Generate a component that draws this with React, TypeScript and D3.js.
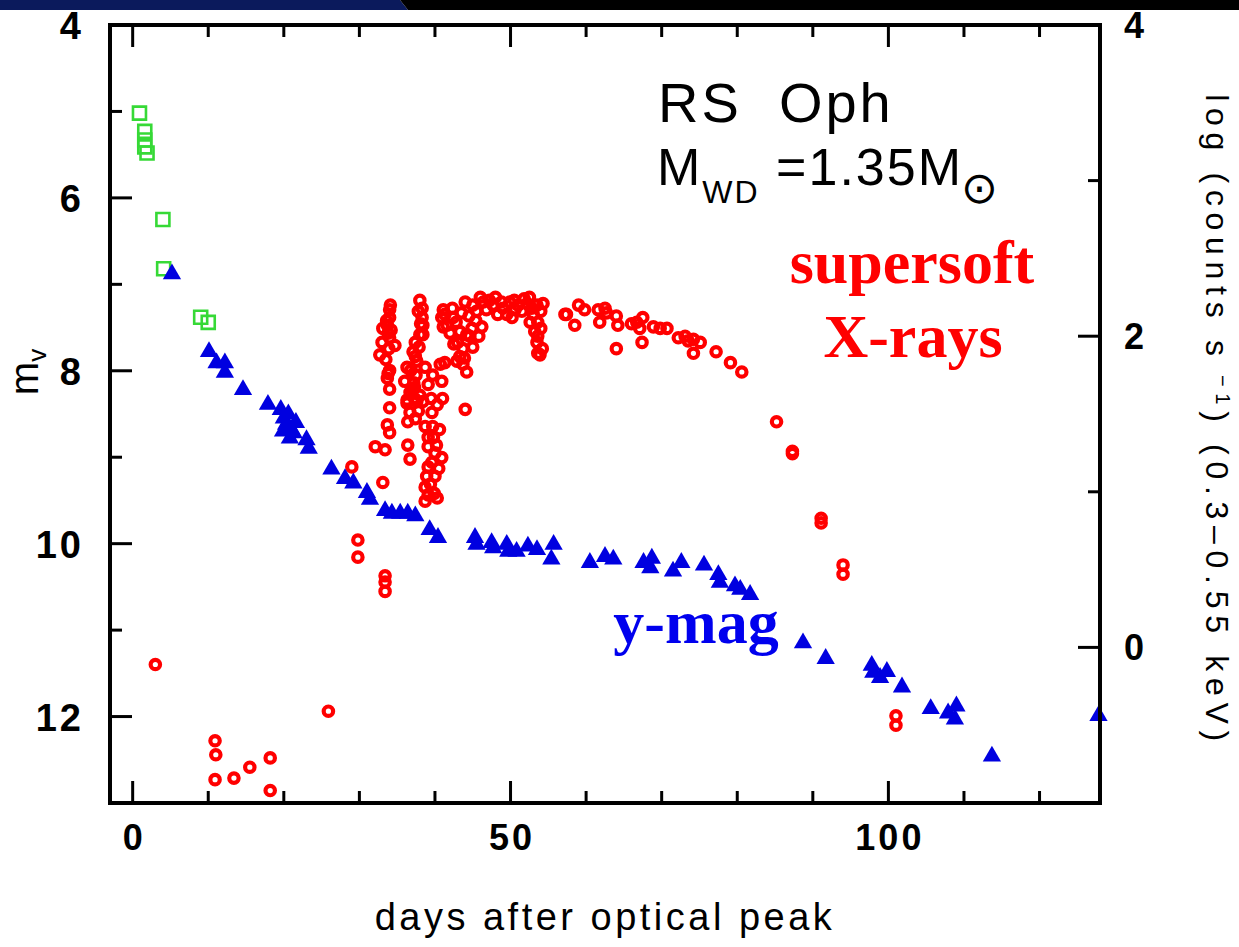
import React from "react";
import * as d3 from "d3";

// ---- data (day after optical peak, value) ----
// early optical (green squares), m_v
const earlyOptical: [number, number][] = [
  [0.9, 5.02], [1.6, 5.23], [1.6, 5.33], [1.6, 5.41], [1.9, 5.48],
  [4.0, 6.25], [4.1, 6.82], [9.0, 7.38], [10.0, 7.44],
];

// y-mag (blue triangles), m_v
const yMag: [number, number][] = [
  [5.2, 6.88], [10.1, 7.78], [11.1, 7.91], [12.2, 7.91], [12.2, 8.02],
  [14.6, 8.22], [17.9, 8.39], [19.6, 8.45], [20.0, 8.55], [20.3, 8.62],
  [20.6, 8.5], [21.0, 8.68], [21.3, 8.72], [19.9, 8.7], [20.8, 8.78],
  [21.6, 8.6], [23.0, 8.8], [23.3, 8.9], [26.3, 9.14], [28.1, 9.25],
  [29.2, 9.3], [31.0, 9.41], [31.4, 9.49], [33.4, 9.62], [34.3, 9.65],
  [35.4, 9.65], [36.4, 9.65], [37.4, 9.68], [39.3, 9.84], [40.4, 9.93],
  [45.3, 9.93], [45.5, 10.01], [47.5, 9.99], [47.7, 10.05], [49.5, 10.01],
  [49.7, 10.09], [50.8, 10.09], [52.3, 10.03], [53.5, 10.07], [55.7, 10.01],
  [55.4, 10.18], [60.5, 10.22], [62.5, 10.15], [63.6, 10.18], [67.6, 10.22],
  [68.7, 10.17], [68.5, 10.28], [71.5, 10.32], [72.6, 10.22], [75.6, 10.25],
  [77.5, 10.36], [77.7, 10.45], [79.7, 10.49], [80.4, 10.53], [81.7, 10.59],
  [88.7, 11.15], [91.7, 11.33], [97.8, 11.41], [98.0, 11.49], [98.9, 11.55],
  [99.8, 11.48], [101.8, 11.66], [105.6, 11.91], [107.9, 11.96], [109.0, 11.88],
  [108.8, 12.03], [113.7, 12.46], [127.8, 11.99],
];

// supersoft X-rays (red circles), log counts/s
const xrays: [number, number][] = [
  [3.0, -0.11], [10.9, -0.6], [11.0, -0.69], [10.9, -0.85], [13.4, -0.84],
  [15.5, -0.77], [18.2, -0.71], [18.2, -0.92], [25.9, -0.41],
  [29.8, 0.69], [29.8, 0.58], [29.0, 1.16],
  [33.4, 0.46], [33.4, 0.42], [33.4, 0.36], [33.1, 1.06],
  [32.1, 1.29], [33.4, 1.27], [33.7, 1.43], [34.0, 1.38], [34.0, 1.54],
  [34.0, 1.66], [33.8, 1.76], [34.0, 1.78], [33.7, 1.73],
  [34.0, 2.17], [34.0, 2.12], [33.1, 2.05], [33.8, 2.02], [33.0, 1.96],
  [34.0, 1.99], [34.7, 1.94], [32.7, 1.88], [33.7, 2.07],
  [33.5, 1.85], [33.9, 1.92], [34.2, 2.04], [33.6, 2.1], [34.1, 2.2],
  [38.0, 2.23], [38.3, 2.18], [38.3, 2.12], [38.4, 2.07], [38.0, 2.01],
  [37.4, 1.96], [37.1, 1.9], [37.4, 1.87], [38.4, 2.01],
  [37.8, 2.16], [38.1, 2.08], [37.9, 1.93], [37.6, 1.84], [37.5, 1.75],
  [37.3, 1.67], [37.8, 1.52], [37.4, 1.47],
  [41.1, 2.17], [40.9, 2.12], [41.1, 2.06],
  [36.3, 1.8], [36.0, 1.71], [36.7, 1.64], [36.3, 1.59], [38.7, 1.8],
  [40.7, 1.82], [39.7, 1.75], [40.9, 1.71], [39.1, 1.69], [38.0, 1.62],
  [38.4, 1.58], [36.8, 1.78], [37.2, 1.7], [37.0, 1.66], [37.3, 1.6],
  [36.3, 1.57], [36.7, 1.51], [36.4, 1.45], [37.6, 1.58], [36.4, 1.3], [36.7, 1.21],
  [40.3, 1.56], [39.6, 1.51], [38.7, 1.42], [39.7, 1.42], [39.1, 1.35],
  [39.1, 1.29], [40.0, 1.25], [40.9, 1.22], [39.6, 1.19], [39.1, 1.16],
  [38.9, 1.1], [40.0, 1.1], [38.7, 1.03], [39.1, 0.98], [40.3, 0.96], [38.7, 0.94],
  [39.5, 1.6], [39.8, 1.35], [40.2, 1.3], [39.4, 1.05], [40.5, 1.15],
  [39.9, 0.99], [40.6, 1.4], [41.0, 1.6],
  [42.3, 2.18], [42.4, 2.12], [41.3, 2.14], [41.6, 2.07], [43.3, 2.03],
  [43.0, 1.96], [44.2, 2.01], [44.9, 2.05], [43.7, 1.92], [45.0, 1.93],
  [46.2, 2.06], [43.3, 1.87], [43.7, 1.82], [44.2, 1.77], [41.3, 1.83], [44.0, 1.53],
  [42.0, 2.02], [42.8, 2.09], [43.5, 2.15], [44.0, 2.22], [44.6, 2.0],
  [45.4, 2.1], [43.9, 1.86], [42.5, 1.95], [42.9, 1.84], [45.8, 2.0],
  [45.0, 2.2], [46.4, 2.22], [47.7, 2.2], [49.0, 2.18], [49.9, 2.22],
  [50.2, 2.12], [48.3, 2.14], [51.0, 2.2], [52.2, 2.21], [53.5, 2.2],
  [54.3, 2.21], [53.0, 2.14], [52.6, 2.09], [53.6, 2.09], [53.6, 2.0],
  [53.5, 1.96], [53.6, 1.89], [53.9, 1.88], [46.8, 2.17], [47.2, 2.23],
  [48.8, 2.22], [50.6, 2.17], [51.5, 2.16], [52.8, 2.18], [44.5, 2.13], [45.5, 2.16],
  [46.0, 2.25], [48.0, 2.25], [49.5, 2.14], [50.5, 2.23], [51.8, 2.24],
  [52.5, 2.25], [54.0, 2.16], [54.0, 2.05], [53.2, 2.03], [54.2, 1.92],
  [57.2, 2.14], [57.4, 2.14], [59.0, 2.2], [59.8, 2.17], [58.5, 2.07],
  [61.6, 2.17], [62.5, 2.18], [62.7, 2.15], [61.8, 2.09], [64.0, 2.13],
  [64.2, 2.07], [64.0, 1.92], [66.0, 2.08], [66.7, 2.09], [67.5, 2.12],
  [67.1, 2.05], [67.4, 1.96], [68.9, 2.06], [69.8, 2.05], [70.7, 2.05],
  [72.2, 1.99], [73.1, 2.0], [73.5, 1.97], [74.2, 1.98], [75.1, 1.96],
  [74.2, 1.89], [77.2, 1.9], [79.1, 1.83], [80.6, 1.77], [85.2, 1.45],
  [87.3, 1.26], [87.3, 1.245], [91.1, 0.83], [91.1, 0.8], [94.0, 0.53],
  [94.0, 0.47], [101.0, -0.44], [101.0, -0.5],
];

// axes
const xDomain = [-3, 128];
const magDomain = [4, 13];
const logDomain = [4, -1];
const xMajorTicks = [0, 50, 100];
const xMinorTicks = [10, 20, 30, 40, 60, 70, 80, 90, 110, 120];
const magMajorTicks = [4, 6, 8, 10, 12];
const magMinorTicks = [5, 7, 9, 11];
const logMajorTicks = [4, 2, 0];
const logMinorTicks = [3, 1];

const W = 1239;
const H = 947;
const L = 110, R = 1100, T = 25, B = 803;

export default function App() {
  const x = d3.scaleLinear().domain(xDomain).range([L, R]);
  const yL = d3.scaleLinear().domain(magDomain).range([T, B]);
  const yR = d3.scaleLinear().domain(logDomain).range([T, B]);
  const tri = d3.symbol(d3.symbolTriangle, 145)()!;
  const sq = d3.symbol(d3.symbolSquare, 169)()!;
  const MAJ = 22, MIN = 12;
  const sans = "'Liberation Sans', Arial, sans-serif";
  const serif = "'Liberation Serif', 'Times New Roman', serif";

  return (
    <div style={{ position: "absolute", left: 0, top: 0, width: W, height: H, background: "#fff" }}>
      <svg width={W} height={H} style={{ display: "block" }}>
        <rect x={0} y={0} width={W} height={H} fill="#fff" />
        {/* markers */}
        <g>
          {earlyOptical.map((d, i) => (
            <path key={"s" + i} d={sq} transform={`translate(${x(d[0])},${yL(d[1])})`}
              fill="none" stroke="#36d936" strokeWidth={2.6} />
          ))}
          {xrays.map((d, i) => (
            <circle key={"c" + i} cx={x(d[0])} cy={yR(d[1])} r={4.7}
              fill="none" stroke="#f00" strokeWidth={4.2} />
          ))}
          {yMag.map((d, i) => (
            <path key={"t" + i} d={tri} transform={`translate(${x(d[0])},${yL(d[1])})`} fill="#0000e0" />
          ))}
        </g>
        {/* frame */}
        <rect x={L} y={T} width={R - L} height={B - T} fill="none" stroke="#000" strokeWidth={4} />
        {/* ticks */}
        <g stroke="#000" strokeWidth={3}>
          {xMajorTicks.map((v) => (
            <g key={"xm" + v}>
              <line x1={x(v)} x2={x(v)} y1={B} y2={B - MAJ} />
              <line x1={x(v)} x2={x(v)} y1={T} y2={T + MAJ} />
            </g>
          ))}
          {xMinorTicks.map((v) => (
            <g key={"xn" + v}>
              <line x1={x(v)} x2={x(v)} y1={B} y2={B - MIN} />
              <line x1={x(v)} x2={x(v)} y1={T} y2={T + MIN} />
            </g>
          ))}
          {magMajorTicks.map((v) => (
            <line key={"lm" + v} x1={L} x2={L + MAJ} y1={yL(v)} y2={yL(v)} />
          ))}
          {magMinorTicks.map((v) => (
            <line key={"ln" + v} x1={L} x2={L + MIN} y1={yL(v)} y2={yL(v)} />
          ))}
          {logMajorTicks.map((v) => (
            <line key={"rm" + v} x1={R} x2={R - MAJ} y1={yR(v)} y2={yR(v)} />
          ))}
          {logMinorTicks.map((v) => (
            <line key={"rn" + v} x1={R} x2={R - MIN} y1={yR(v)} y2={yR(v)} />
          ))}
        </g>
        {/* tick labels */}
        <g fontFamily={sans} fontWeight="bold" fill="#000" letterSpacing={3}>
          {xMajorTicks.map((v) => (
            <text key={"xl" + v} x={x(v) + 1.5} y={B + 47} fontSize={36} textAnchor="middle">{v}</text>
          ))}
          {magMajorTicks.map((v) => (
            <text key={"ll" + v} x={84} y={yL(v) + 14} fontSize={38} textAnchor="end">{v}</text>
          ))}
          {logMajorTicks.map((v) => (
            <text key={"rl" + v} x={1124} y={yR(v) + 13} fontSize={36} textAnchor="start">{v}</text>
          ))}
        </g>
        {/* axis titles */}
        <text x={605} y={930} textAnchor="middle" fontFamily={sans} fontSize={38} letterSpacing={3.5}>
          days after optical peak
        </text>
        <text transform="translate(38,372) rotate(-90)" textAnchor="middle" fontFamily={sans} fontSize={40}>
          m<tspan fontSize={26} dy={8}>v</tspan>
        </text>
        <text transform="translate(1206,421) rotate(90)" textAnchor="middle" fontFamily={sans} fontSize={32} letterSpacing={6.7}>
          log (counts s<tspan fontSize={20} dy={-10}> −1</tspan><tspan dy={10}>) (0.3–0.55 keV)</tspan>
        </text>
        {/* annotations */}
        <text x={658} y={122} fontFamily={sans} fontSize={56} letterSpacing={3} style={{ whiteSpace: "pre" }}>
          {"RS  Oph"}
        </text>
        <text x={657} y={185} fontFamily={sans} fontSize={52} letterSpacing={2} style={{ whiteSpace: "pre" }}>
          M<tspan fontSize={32} dy={18}>WD</tspan><tspan dy={-18}>{" =1.35M"}</tspan><tspan fontSize={44} dy={18} dx={-2}>⊙</tspan>
        </text>
        <g fontFamily={serif} fontWeight="bold" fontSize={62} textAnchor="middle">
          <text x={912} y={283} fill="#f00">supersoft</text>
          <text x={913} y={357} fill="#f00">X-rays</text>
          <text x={696} y={643} fill="#0000ee">y-mag</text>
        </g>
        {/* top band */}
        <polygon points={`0,0 400,0 408,10 0,10`} fill="#0b1a5c" />
        <polygon points={`400,0 ${W},0 ${W},10 408,10`} fill="#000" />
      </svg>
    </div>
  );
}
